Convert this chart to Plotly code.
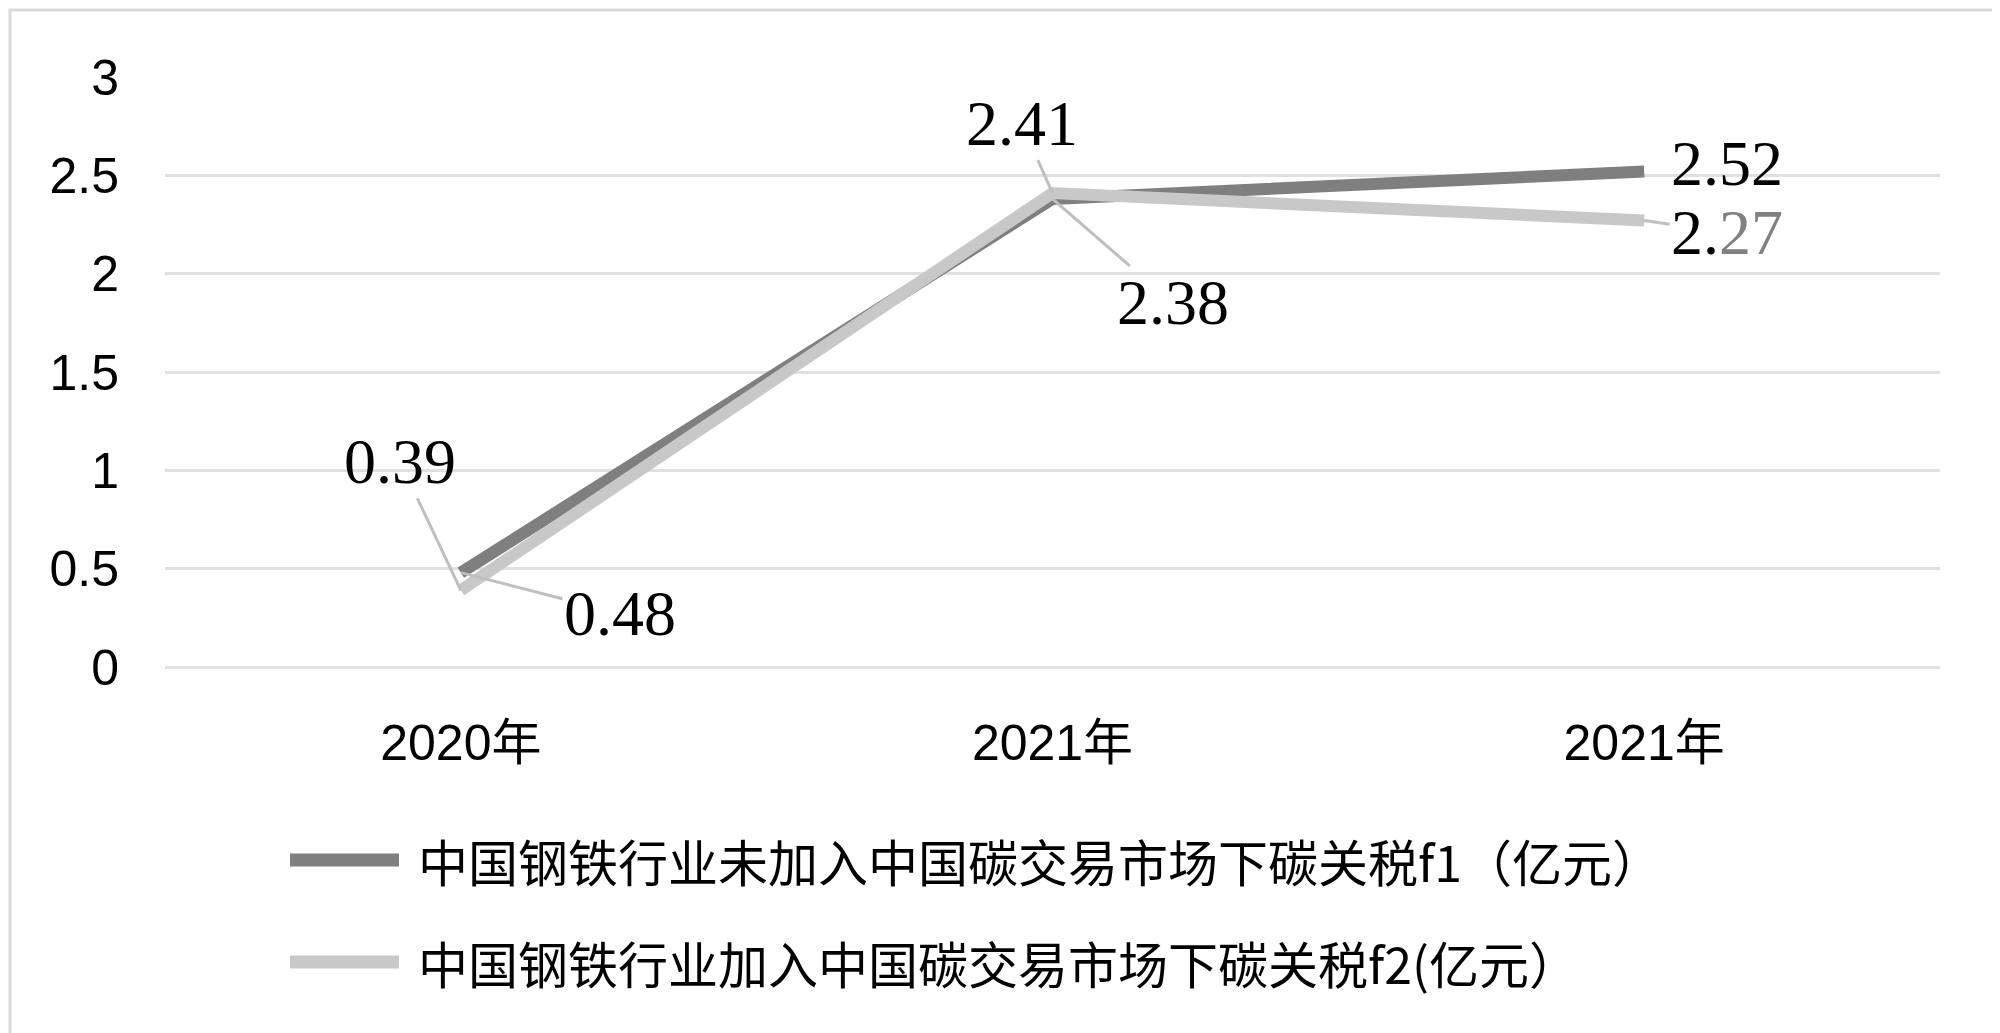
import plotly.graph_objects as go

# data
categories = ["2020年", "2021年", "2021年"]
series_names = [
    "中国钢铁行业未加入中国碳交易市场下碳关税f1（亿元）",
    "中国钢铁行业加入中国碳交易市场下碳关税f2(亿元）",
]
f1_values = [0.48, 2.38, 2.52]
f2_values = [0.39, 2.41, 2.27]

W, H = 2000, 1033
M = dict(l=157, r=68, t=69, b=374)
PW = W - M["l"] - M["r"]
PH = H - M["t"] - M["b"]

DARK = "#7f7f7f"
LIGHT = "#c8c8c8"
GRID = "#e0e0e0"
LEADER = "#bfbfbf"
TICK_FONT = "Liberation Sans Narrow, Liberation Sans, Noto Sans CJK SC"
CJK_FONT = "Noto Sans CJK SC"
LABEL_FONT = "Liberation Serif"


def px_x(p):
    return (p - M["l"]) / PW


def px_y(p):
    return (H - M["b"] - p) / PH


xs = list(range(len(categories)))

fig = go.Figure()
fig.add_trace(go.Scatter(x=xs, y=f1_values, mode="lines", name=series_names[0],
                         line=dict(color=DARK, width=12), showlegend=False))
fig.add_trace(go.Scatter(x=xs, y=f2_values, mode="lines", name=series_names[1],
                         line=dict(color=LIGHT, width=12), showlegend=False))

# data labels: (x index, value, text, ax, ay, leader)
labels = [
    (0, f2_values[0], "0.39", -61, -129, True),
    (0, f1_values[0], "0.48", 159, 41, True),
    (1, f2_values[1], "2.41", -31, -70, True),
    (1, f1_values[1], "2.38", 120, 104, True),
    (2, f1_values[2], "2.52", 83, -8, False),
    (2, f2_values[2], "2.<span style='color:#808080'>27</span>", 83, 12, True),
]
for xi, val, txt, ax, ay, leader in labels:
    font = dict(family=LABEL_FONT, size=64, color="black")
    if leader:
        fig.add_annotation(
            x=xi, y=val, text=txt, showarrow=True, arrowhead=0, arrowwidth=3,
            arrowcolor=LEADER, ax=ax, ay=ay, standoff=0, font=font,
        )
    else:
        fig.add_annotation(x=xi, y=val, text=txt, showarrow=False,
                           xshift=ax, yshift=-ay, font=font)

# manual legend
legend_rows = [(852, DARK), (954, LIGHT)]
for (row_y, col), name in zip(legend_rows, series_names):
    fig.add_shape(type="line", xref="paper", yref="paper",
                  x0=px_x(282), x1=px_x(391), y0=px_y(row_y), y1=px_y(row_y),
                  line=dict(color=col, width=13))
    fig.add_annotation(xref="paper", yref="paper", x=px_x(408), y=px_y(row_y),
                       text=name, showarrow=False, xanchor="left", yanchor="middle",
                       font=dict(family=CJK_FONT, size=50, color="black"))

# outer frame
fig.add_shape(type="rect", xref="paper", yref="paper",
              x0=px_x(2), x1=px_x(W - 2), y0=px_y(H - 2), y1=px_y(2),
              line=dict(color="#d9d9d9", width=3), layer="below")

fig.update_layout(
    width=W, height=H,
    margin=M,
    paper_bgcolor="white",
    plot_bgcolor="white",
    showlegend=False,
    xaxis=dict(
        range=[-0.5, len(categories) - 0.5],
        tickvals=xs, ticktext=categories,
        showgrid=False, zeroline=False, showline=False,
        ticks="", ticklabelstandoff=42,
        tickfont=dict(family=TICK_FONT, size=50, color="black"),
    ),
    yaxis=dict(
        range=[0, 3], dtick=0.5,
        showgrid=True, gridcolor=GRID, gridwidth=3,
        zeroline=True, zerolinecolor=GRID, zerolinewidth=3,
        showline=False, ticks="", ticklabelstandoff=45,
        tickfont=dict(family=TICK_FONT, size=50, color="black"),
    ),
)

fig.write_html("out.html")
